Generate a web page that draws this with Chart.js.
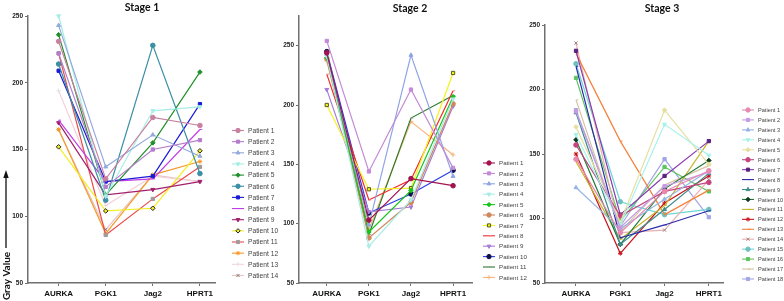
<!DOCTYPE html>
<html>
<head>
<meta charset="utf-8">
<script src="https://cdn.jsdelivr.net/npm/chart.js@4.4.1/dist/chart.umd.min.js"></script>
<style>
html, body { margin: 0; padding: 0; background: #fff; }
#wrap { position: relative; width: 784px; height: 301px; overflow: hidden; }
canvas { position: absolute; left: 0; top: 0; }
</style>
</head>
<body>
<div id="wrap">
  <canvas id="stage1" width="784" height="301"></canvas>
  <canvas id="stage2" width="784" height="301"></canvas>
  <canvas id="stage3" width="784" height="301"></canvas>
</div>
<script>
const categories = ['AURKA', 'PGK1', 'Jag2', 'HPRT1'];
const yTicks = [50, 100, 150, 200, 250];

// one row per patient: AURKA, PGK1, Jag2, HPRT1
const stage1Values = [
  [231, 128, 174, 168],
  [222, 122, 150, 157],
  [243, 137, 161, 145],
  [250, 115, 179, 182],
  [236, 116, 155, 208],
  [214, 112, 228, 132],
  [209, 126, 130, 184],
  [172, 126, 128, 165],
  [170, 116, 120, 126],
  [152, 104, 106, 149],
  [222, 86, 113, 137],
  [165, 87, 131, 141],
  [194, 108, 130, 126],
  [165, 90, 131, 126]
];
const stage2Values = [
  [244, 103, 138, 132],
  [254, 144, 213, 147],
  [243, 99, 242, 140],
  [241, 81, 120, 205],
  [240, 93, 128, 207],
  [239, 88, 118, 201],
  [200, 129, 130, 227],
  [226, 120, 137, 212],
  [213, 110, 114, 199],
  [245, 109, 125, 145],
  [242, 91, 189, 208],
  [237, 95, 186, 158]
];
const stage3Values = [
  [146, 89, 121, 137],
  [183, 93, 125, 136],
  [124, 92, 115, 137],
  [165, 95, 173, 149],
  [171, 97, 184, 142],
  [157, 102, 121, 128],
  [230, 103, 133, 160],
  [218, 85, 95, 106],
  [182, 80, 107, 135],
  [161, 80, 123, 145],
  [144, 84, 110, 160],
  [150, 73, 112, 133],
  [228, 160, 103, 122],
  [236, 89, 91, 130],
  [220, 113, 103, 107],
  [209, 98, 140, 121],
  [192, 90, 126, 141],
  [184, 94, 146, 101]
];

// line colour, marker fill, marker border, marker
const stage1Styles = [
  ['#c9809f', '#c9809f', '#c9809f', 'circle'],
  ['#b57ccc', '#b57ccc', '#b57ccc', 'rect'],
  ['#94a9dc', '#94a9dc', '#94a9dc', 'triangle'],
  ['#a6eee4', '#a6eee4', '#a6eee4', 'tridown'],
  ['#1f8f2a', '#1f8f2a', '#1f8f2a', 'rectRot'],
  ['#3b8ea5', '#3b8ea5', '#3b8ea5', 'circle'],
  ['#1b1bd6', '#1b1bd6', '#1b1bd6', 'rect'],
  ['#c13ee6', '#c13ee6', '#c13ee6', 'dash'],
  ['#a0206e', '#a0206e', '#a0206e', 'tridown'],
  ['#f2ee22', '#f2ee22', '#222222', 'rectRot'],
  ['#ec4a4a', '#a09a9a', '#a09a9a', 'rect'],
  ['#f59a2a', '#f59a2a', '#f59a2a', 'star'],
  ['#f3d2da', '#e8dfe2', '#e8dfe2', 'cross'],
  ['#e8c4c4', '#8a7a7a', '#8a7a7a', 'crossRot']
];
const stage2Styles = [
  ['#a3124e', '#a3124e', '#a3124e', 'circle'],
  ['#c48ad6', '#c48ad6', '#c48ad6', 'rect'],
  ['#8fa4e6', '#8fa4e6', '#8fa4e6', 'triangle'],
  ['#a8ece6', '#a8ece6', '#a8ece6', 'tridown'],
  ['#16c41a', '#16c41a', '#16c41a', 'rectRot'],
  ['#d0875a', '#d0875a', '#d0875a', 'circle'],
  ['#f3f31e', '#f3f31e', '#5a5a1a', 'rect'],
  ['#f42b2b', '#f28a8a', '#f28a8a', 'dash'],
  ['#a77dd8', '#a77dd8', '#a77dd8', 'tridown'],
  ['#2a3ee8', '#10104a', '#10104a', 'circle'],
  ['#2c7a2c', '#90a090', '#90a090', 'dash'],
  ['#f5b57a', '#f5b57a', '#f5b57a', 'cross']
];
const stage3Styles = [
  ['#e68ab0', '#e68ab0', '#e68ab0', 'circle'],
  ['#c59ae6', '#c59ae6', '#c59ae6', 'rect'],
  ['#96b4e4', '#96b4e4', '#96b4e4', 'triangle'],
  ['#a6f2ea', '#a6f2ea', '#a6f2ea', 'tridown'],
  ['#e6dea0', '#e6dea0', '#e6dea0', 'rectRot'],
  ['#c5457f', '#c5457f', '#c5457f', 'circle'],
  ['#8a3aae', '#5a2280', '#5a2280', 'rect'],
  ['#2a2aa8', '#2a2aa8', '#2a2aa8', 'dash'],
  ['#3f8c8c', '#3f8c8c', '#3f8c8c', 'triangle'],
  ['#1f7a3a', '#0c3a1c', '#0c3a1c', 'rectRot'],
  ['#c8b42a', '#c8b42a', '#c8b42a', 'dash'],
  ['#c8141e', '#c8141e', '#c8141e', 'star'],
  ['#f5803c', '#f5803c', '#f5803c', 'dash'],
  ['#eab0b0', '#a08080', '#a08080', 'crossRot'],
  ['#6ad6d6', '#70c0c0', '#70c0c0', 'circle'],
  ['#5ec45e', '#5ec45e', '#5ec45e', 'rect'],
  ['#d6c2a2', '#d6c2a2', '#d6c2a2', 'dash'],
  ['#a2a6e6', '#a2a6e6', '#a2a6e6', 'rect']
];

const FONT = '"Liberation Sans", Arial, sans-serif';
const AXIS = '#707070';

function makeSets(values, styles) {
  return values.map((row, i) => {
    const s = styles[i];
    const down = s[3] === 'tridown';
    return {
      label: 'Patient ' + (i + 1),
      data: row.map((v, j) => ({ x: j, y: v })),
      borderColor: s[0],
      borderWidth: 1.2,
      pointBackgroundColor: s[1],
      pointBorderColor: s[2],
      pointBorderWidth: 1,
      pointStyle: down ? 'triangle' : s[3],
      pointRotation: down ? 180 : 0,
      pointRadius: 2.3,
      tension: 0,
      clip: false
    };
  });
}

// titles, side legend and the y label are drawn here
const decor = {
  id: 'decor',
  afterDraw(chart, args, o) {
    const ctx = chart.ctx;
    ctx.save();
    ctx.font = 'bold 10.5px Lato, ' + FONT;
    ctx.fillStyle = '#111';
    ctx.textAlign = 'center';
    ctx.textBaseline = 'middle';
    ctx.fillText(o.title, o.titleX, o.titleY);

    ctx.font = o.legFont + 'px ' + FONT;
    ctx.textAlign = 'left';
    chart.data.datasets.forEach((ds, i) => {
      const x = o.legX, y = o.legY + i * o.legGap;
      ctx.strokeStyle = ds.borderColor;
      ctx.lineWidth = 1.1;
      ctx.beginPath();
      ctx.moveTo(x - 6, y);
      ctx.lineTo(x + 6, y);
      ctx.stroke();
      ctx.fillStyle = ds.pointBackgroundColor;
      ctx.strokeStyle = ds.pointBorderColor;
      ctx.lineWidth = 1;
      Chart.helpers.drawPoint(ctx, {
        pointStyle: ds.pointStyle, rotation: ds.pointRotation,
        radius: 2.2, borderWidth: 1
      }, x, y);
      ctx.fillStyle = '#444';
      ctx.fillText(ds.label, o.legX + 10, y + 0.5);
    });

    if (o.yLabel) {
      ctx.fillStyle = '#111';
      ctx.strokeStyle = '#111';
      ctx.lineWidth = 1.3;
      ctx.beginPath();
      ctx.moveTo(6, 248);
      ctx.lineTo(6, 177);
      ctx.stroke();
      ctx.beginPath();
      ctx.moveTo(6, 170);
      ctx.lineTo(3.3, 178);
      ctx.lineTo(8.7, 178);
      ctx.closePath();
      ctx.fill();
      ctx.translate(7, 276);
      ctx.rotate(-Math.PI / 2);
      ctx.textAlign = 'center';
      ctx.font = 'bold 10px Lato, ' + FONT;
      ctx.fillText('Gray Value', 0, 0);
    }
    ctx.restore();
  }
};

function axes(xMin, xMax, yMax) {
  const grid = { drawOnChartArea: false, drawTicks: true, tickLength: 3, color: AXIS, lineWidth: 1 };
  const border = { color: AXIS, width: 1.5 };
  return {
    x: {
      type: 'linear', min: xMin, max: xMax,
      afterBuildTicks: s => { s.ticks = categories.map((c, i) => ({ value: i })); },
      afterFit: s => { s.height = 18; },
      ticks: {
        callback: v => categories[v], autoSkip: false, maxRotation: 0,
        font: { family: FONT, weight: 'bold', size: 8 }, color: '#111', padding: 3
      },
      grid, border
    },
    y: {
      min: 50, max: yMax,
      afterBuildTicks: s => { s.ticks = yTicks.map(v => ({ value: v })); },
      afterFit: s => { s.width = 28; },
      ticks: { font: { family: FONT, weight: 'bold', size: 6.5 }, color: '#222', padding: 2 },
      grid, border
    }
  };
}

function build(id, values, styles, p) {
  new Chart(document.getElementById(id).getContext('2d'), {
    type: 'line',
    data: { datasets: makeSets(values, styles) },
    options: {
      responsive: false,
      animation: false,
      events: [],
      layout: { autoPadding: false, padding: { left: p.left - 28, right: 784 - p.right, top: p.top, bottom: 0 } },
      scales: axes(p.xMin, p.xMax, p.yMax),
      plugins: { legend: { display: false }, tooltip: { enabled: false }, decor: p.decor }
    },
    plugins: [decor]
  });
}

build('stage1', stage1Values, stage1Styles, {
  left: 28, right: 215, top: 16, xMin: -0.65, xMax: 3.32, yMax: 250,
  decor: { title: 'Stage 1', titleX: 142, titleY: 8, legX: 238, legY: 130.5, legGap: 11.15, legFont: 6.7, yLabel: true }
});
build('stage2', stage2Values, stage2Styles, {
  left: 299, right: 472, top: 16, xMin: -0.66, xMax: 3.45, yMax: 275,
  decor: { title: 'Stage 2', titleX: 410, titleY: 9, legX: 489, legY: 163, legGap: 10.4, legFont: 6.2 }
});
build('stage3', stage3Values, stage3Styles, {
  left: 545, right: 723, top: 25, xMin: -0.70, xMax: 3.32, yMax: 250,
  decor: { title: 'Stage 3', titleX: 662, titleY: 8.5, legX: 748, legY: 110, legGap: 9.94, legFont: 5.6 }
});
</script>
</body>
</html>
